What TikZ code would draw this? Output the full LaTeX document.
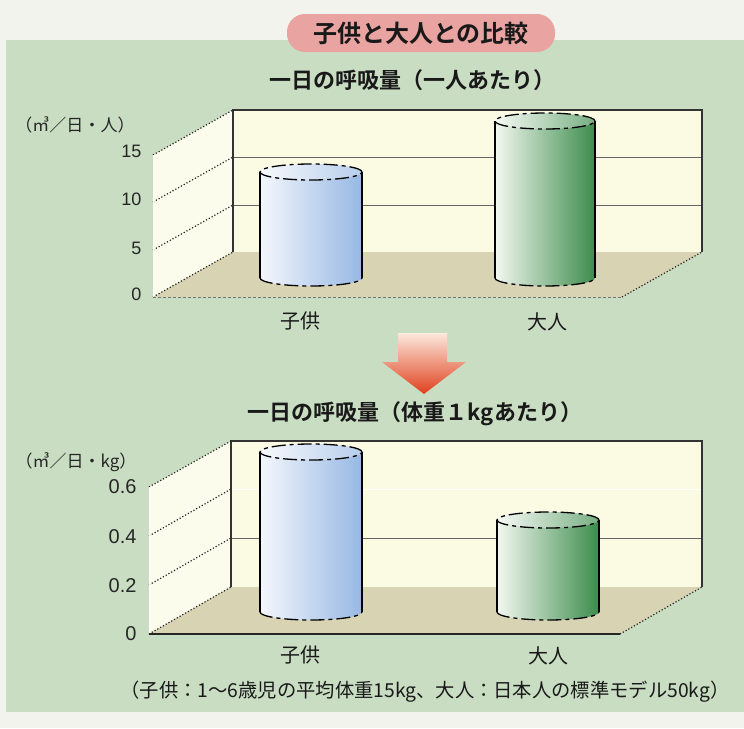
\documentclass[tikz,border=0pt]{standalone}
\usepackage{fontspec}
\setmainfont{Liberation Sans}
\newfontfamily\jp{Noto Sans CJK JP}
\newfontfamily\jpb{Noto Sans CJK JP Bold}
\definecolor{bgw}{HTML}{F3F3EE}
\definecolor{panel}{HTML}{C9DDC3}
\definecolor{pillc}{HTML}{E9A3A1}
\definecolor{wallc}{HTML}{FBFBE4}
\definecolor{sidec}{HTML}{FCFCEC}
\definecolor{floorc}{HTML}{D8D3B2}
\definecolor{blueD}{HTML}{97B8E4}
\definecolor{blueL}{HTML}{F4F7FC}
\definecolor{greenD}{HTML}{3C8C4C}
\definecolor{greenL}{HTML}{F3F8F0}
\definecolor{arrowD}{HTML}{E0401E}
\definecolor{arrowL}{HTML}{FCE8DC}
\newcommand\drawcyl[6]{%
  \shade[left color=#5, right color=#6] (#1-#4,#2) -- (#1-#4,#3)
     arc[start angle=180,end angle=360,x radius=#4pt,y radius=8pt] -- (#1+#4,#2) -- cycle;
  \shade[left color=#5!70!white, right color=#6!70!white] (#1,#2) ellipse[x radius=#4pt, y radius=8pt];
  \draw[line width=1.3pt] (#1-#4,#2) -- (#1-#4,#3) (#1+#4,#2) -- (#1+#4,#3);
  \draw[cyldash] (#1,#2) ellipse[x radius=#4pt, y radius=8pt];
  \draw[cyldash] (#1-#4,#3) arc[start angle=180,end angle=360,x radius=#4pt,y radius=8pt];
}
\begin{document}
\begin{tikzpicture}[x=1pt,y=-1pt,
  cyldash/.style={line width=1.3pt, dash pattern=on 14pt off 4pt on 4pt off 4pt},
  wallline/.style={line width=1.1pt, black!80},
  gridline/.style={line width=0.9pt, black!60},
  sideline/.style={line width=1.2pt, dotted, black!85},
  ttl/.style={font=\jpb\fontsize{24}{26}\selectfont, text=black!90},
  sub/.style={font=\jpb\fontsize{22}{24}\selectfont, text=black!90},
  unit/.style={font=\jp\fontsize{17}{19}\selectfont, text=black!85},
  num/.style={anchor=east, text=black!85},
  cat/.style={font=\jp\fontsize{20}{22}\selectfont, text=black!90},
  note/.style={font=\jp\fontsize{19.3}{21}\selectfont, text=black!90}]
\useasboundingbox (0,0) rectangle (744,728);
\fill[bgw] (0,0) rectangle (744,728);
\fill[panel] (6,40) rectangle (744,712);
% title pill
\node[ttl, fill=pillc, rounded corners=18pt, minimum width=268pt, minimum height=38pt, inner sep=0pt] (title) at (421,33) {子供と大人との比較};
% chart 1
\node[sub] (sub1) at (412,80) {一日の呼吸量（一人あたり）};
\fill[wallc] (233,110) rectangle (702,252);
\fill[sidec] (153,155) -- (233,110) -- (233,252) -- (153,297) -- cycle;
\fill[floorc] (153,297) -- (233,252) -- (702,252) -- (622,297) -- cycle;
\draw[gridline] (233,157) -- (702,157) (233,205) -- (702,205);
\draw[wallline] (233,252) -- (233,110) -- (702,110) -- (702,252);
\draw[sideline] (153,155) -- (233,110) (153,202) -- (233,157) (153,250) -- (233,205) (153,297) -- (233,252) (622,297) -- (702,252);
\draw[line width=0.8pt, white] (153,155) -- (153,297);
\draw[line width=1pt, black!55, densely dashed] (153,297) -- (622,297);
\drawcyl{311}{172}{278}{51}{blueL}{blueD}
\drawcyl{545}{121}{278}{50}{greenL}{greenD}
\node[unit] (unit1) at (75,125) {（㎥／日・人）};
\node[num, font=\fontsize{18}{20}\selectfont] (y15) at (145,151) {15};
\node[num, font=\fontsize{18}{20}\selectfont] (y10) at (145,199) {10};
\node[num, font=\fontsize{18}{20}\selectfont] (y5) at (145,248) {5};
\node[num, font=\fontsize{18}{20}\selectfont] (y0) at (145,294) {0};
\node[cat] (c1) at (300,321) {子供};
\node[cat] (a1) at (547,322) {大人};
% arrow
\shade[top color=arrowL, bottom color=arrowD] (398,333) -- (447,333) -- (447,362) -- (466,362) -- (424,394) -- (382,362) -- (398,362) -- cycle;
% chart 2
\node[sub] (sub2) at (415,414) {一日の呼吸量（体重１kgあたり）};
\fill[wallc] (231,441) rectangle (702,587);
\fill[sidec] (149,487) -- (231,441) -- (231,587) -- (149,634) -- cycle;
\fill[floorc] (149,634) -- (231,587) -- (702,587) -- (620,634) -- cycle;
\draw[line width=0.9pt, white] (231,489) -- (702,489);
\draw[gridline] (231,538) -- (702,538);
\draw[wallline] (231,587) -- (231,441) -- (702,441) -- (702,587);
\draw[sideline] (149,487) -- (231,441) (149,536) -- (231,489) (149,585) -- (231,538) (149,634) -- (231,587) (620,634) -- (702,587);
\draw[line width=0.8pt, white] (149,487) -- (149,634);
\draw[line width=1.2pt, black!85] (149,634) -- (620,634);
\drawcyl{311}{452}{612}{51}{blueL}{blueD}
\drawcyl{548}{520}{612}{51}{greenL}{greenD}
\node[unit] (unit2) at (76,462) {（㎥／日・kg）};
\node[num, font=\fontsize{20}{22}\selectfont] (z6) at (140,487) {0.6};
\node[num, font=\fontsize{20}{22}\selectfont] (z4) at (140,537) {0.4};
\node[num, font=\fontsize{20}{22}\selectfont] (z2) at (140,586) {0.2};
\node[num, font=\fontsize{20}{22}\selectfont] (z0) at (140,634) {0};
\node[cat] (c2) at (300,655) {子供};
\node[cat] (a2) at (548,656) {大人};
\node[note] (note) at (425,692) {（子供：1～6歳児の平均体重15kg、大人：日本人の標準モデル50kg）};
\end{tikzpicture}
\end{document}
